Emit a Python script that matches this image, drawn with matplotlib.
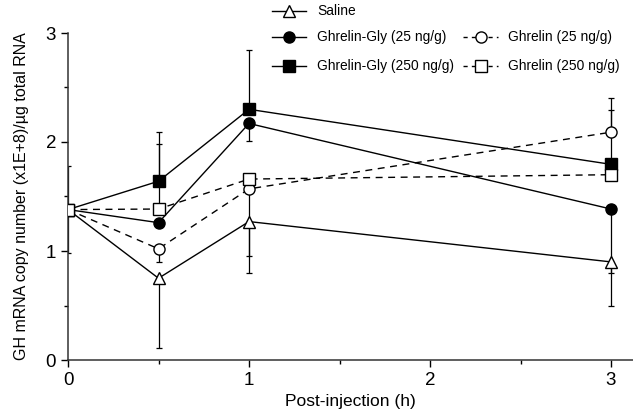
import matplotlib
matplotlib.use("Agg")
import matplotlib.pyplot as plt
from matplotlib.lines import Line2D
from matplotlib.ticker import MultipleLocator

plt.rcParams['font.family'] = ['Liberation Sans', 'DejaVu Sans']

# ---- data ----
times = [0, 0.5, 1, 3]
labels = ["Saline", "Ghrelin-Gly (25 ng/g)", "Ghrelin-Gly (250 ng/g)",
          "Ghrelin (25 ng/g)", "Ghrelin (250 ng/g)"]
saline = [1.38, 0.75, 1.27, 0.90]
gg25 = [1.38, 1.26, 2.17, 1.385]
gg250 = [1.38, 1.64, 2.30, 1.795]
g25 = [1.38, 1.02, 1.57, 2.09]
g250 = [1.38, 1.385, 1.66, 1.70]

# lower / upper error bars (only visible sides)
saline_lo = [0.40, 0.64, 0.47, 0.40]
saline_hi = [0.40, 0.0, 0.0, 0.0]
gg25_lo = [0.0, 0.0, 0.16, 0.59]
gg25_hi = [0.0, 0.0, 0.0, 0.0]
gg250_lo = [0.0, 0.0, 0.0, 0.0]
gg250_hi = [0.0, 0.45, 0.54, 0.50]
g25_lo = [0.0, 0.12, 0.62, 0.0]
g25_hi = [0.0, 0.0, 0.0, 0.31]
g250_lo = [0.0, 0.0, 0.0, 0.0]
g250_hi = [0.0, 0.60, 0.0, 0.0]

xticks = [0, 1, 2, 3]
yticks = [0, 1, 2, 3]

W, H = 633, 411
fig = plt.figure(figsize=(W / 100, H / 100), dpi=100)
ax = fig.add_axes([68 / W, (H - 360) / H, (W - 68) / W, 327 / H])

styles = [
    dict(y=saline, lo=saline_lo, hi=saline_hi, marker='^', mfc='white', ls='-', ms=8.5, z=3),
    dict(y=gg25, lo=gg25_lo, hi=gg25_hi, marker='o', mfc='black', ls='-', ms=8, z=4),
    dict(y=gg250, lo=gg250_lo, hi=gg250_hi, marker='s', mfc='black', ls='-', ms=8, z=5),
    dict(y=g25, lo=g25_lo, hi=g25_hi, marker='o', mfc='white', ls=(0, (5, 4)), ms=8, z=6),
    dict(y=g250, lo=g250_lo, hi=g250_hi, marker='s', mfc='white', ls=(0, (5, 4)), ms=8, z=7),
]

for st in styles:
    ax.errorbar(times, st['y'], yerr=[st['lo'], st['hi']], fmt='none',
                ecolor='black', elinewidth=0.9, capsize=2.2, capthick=0.9, zorder=2)
for st in styles:
    ax.plot(times, st['y'], color='black', lw=1.0, ls=st['ls'], marker=st['marker'],
            mfc=st['mfc'], mec='black', mew=1.0, ms=st['ms'], zorder=st['z'])

ax.set_xlim(0, (W - 68) / 181.0)
ax.set_ylim(0, 3)
ax.set_xticks(xticks)
ax.set_yticks(yticks)
ax.xaxis.set_minor_locator(MultipleLocator(0.5))
ax.yaxis.set_minor_locator(MultipleLocator(0.5))
ax.tick_params(which='major', direction='out', length=5, width=1, labelsize=13.5)
ax.tick_params(which='minor', direction='out', length=3, width=1)
for s in ['top', 'right']:
    ax.spines[s].set_visible(False)
for s in ['left', 'bottom']:
    ax.spines[s].set_linewidth(1.1)
    ax.spines[s].set_color('#333333')

ax.set_xlabel("Post-injection (h)", fontsize=12.5, labelpad=4)
ax.set_ylabel("GH mRNA copy number (x1E+8)/\u00b5g total RNA", fontsize=11.5, labelpad=12)

# ---- manual legend ----
def fx(px):
    return px / W

def fy(py):
    return (H - py) / H

entries = [
    (0, 272, 306, 317, 11),
    (1, 272, 306, 317, 37),
    (2, 272, 306, 317, 66),
    (3, 463, 498, 508, 37),
    (4, 463, 498, 508, 66),
]
for idx, x0, x1, xt, yy in entries:
    st = styles[idx]
    lls = st['ls'] if st['ls'] == '-' else (0, (3, 3))
    fig.add_artist(Line2D([fx(x0), fx(x1)], [fy(yy), fy(yy)], transform=fig.transFigure,
                          color='black', lw=1.0, ls=lls))
    fig.add_artist(Line2D([fx((x0 + x1) / 2)], [fy(yy)], transform=fig.transFigure,
                          color='black', marker=st['marker'], mfc=st['mfc'], mec='black',
                          mew=1.0, ms=st['ms'], ls='none'))
    fig.text(fx(xt), fy(yy), labels[idx], fontsize=9.9, va='center', ha='left')

fig.savefig("out.png", dpi=100)
